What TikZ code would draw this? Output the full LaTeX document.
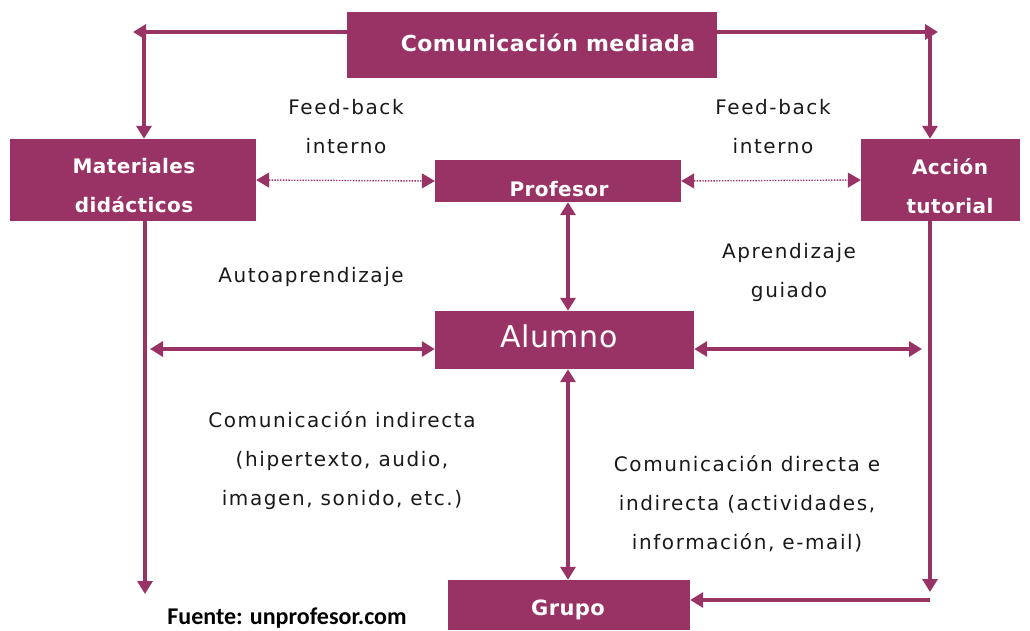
\documentclass[tikz,border=0pt]{standalone}
\usepackage{fontspec}
\setmainfont{DejaVu Sans}
\newfontfamily\lblfont[LetterSpace=8]{DejaVu Sans}
\newfontfamily\boxfont[LetterSpace=2]{DejaVu Sans}
\newfontfamily\srcfont{Carlito}
\usetikzlibrary{arrows.meta}
\definecolor{plum}{RGB}{153,51,102}
\tikzset{
  pbox/.style={fill=plum, draw=none, inner sep=0pt},
  btxt/.style={text=white, align=center, inner sep=0pt, anchor=base,
    font=\boxfont\bfseries\fontsize{20}{39}\selectfont},
  conn/.style={draw=plum, line width=3.5pt, -{Triangle[length=13pt,width=15pt]}},
  dconn/.style={draw=plum, line width=3.5pt, {Triangle[length=13pt,width=15pt]}-{Triangle[length=13pt,width=15pt]}},
  dots/.style={draw=plum, line width=1.4pt, dash pattern=on 1.4pt off 1.4pt, {Triangle[length=13pt,width=15pt]}-{Triangle[length=13pt,width=15pt]}},
  lbl/.style={text=black!90, align=center, inner sep=0pt, font=\lblfont\fontsize{20}{39}\selectfont}
}
\begin{document}
\begin{tikzpicture}[x=1pt,y=-1pt]
\useasboundingbox (0,0) rectangle (1030,630);
% boxes
\node[pbox, minimum width=370pt, minimum height=66pt] (cm) at (532,45) {};
\node[pbox, minimum width=246pt, minimum height=82pt] (mat) at (133,180) {};
\node[pbox, minimum width=246pt, minimum height=42pt] (prof) at (558,181) {};
\node[pbox, minimum width=159pt, minimum height=82pt] (acc) at (940.5,180) {};
\node[pbox, minimum width=259pt, minimum height=58pt] (alu) at (564.5,340) {};
\node[pbox, minimum width=242pt, minimum height=50pt] (gru) at (569,605) {};
% box texts
\node[btxt, font=\boxfont\bfseries\fontsize{22}{26}\selectfont] (cmt) at (548,51) {Comunicación mediada};
\node[btxt, anchor=center] (matt) at (134,186) {Materiales\\didácticos};
\node[btxt] (proft) at (559,196) {Profesor};
\node[btxt, anchor=center] (acct) at (950,186) {Acción\\tutorial};
\node[btxt, font=\boxfont\fontsize{30}{34}\selectfont] (alut) at (559,347) {Alumno};
\node[btxt, font=\boxfont\bfseries\fontsize{21}{24}\selectfont] (grut) at (568,615) {Grupo};
% coordinates
\coordinate (tlA) at (133,32);
\coordinate (tlB) at (144,32);
\coordinate (trA) at (938,32);
\coordinate (trB) at (930,32);
\coordinate (blEnd) at (145,594);
\coordinate (brEnd) at (930,592);
\coordinate (brB) at (930,600);
\coordinate (aluL) at (150,349);
\coordinate (aluR) at (922,349);
% connectors
\draw[conn] (cm.west |- tlA) -- (tlA);
\draw[conn] (tlB) -- (tlB |- mat.north);
\draw[conn] (cm.east |- trA) -- (trA);
\draw[conn] (trB) -- (trB |- acc.north);
\draw[conn] (mat.south -| blEnd) -- (blEnd);
\draw[conn] (acc.south -| brEnd) -- (brEnd);
\draw[conn] (brB) -- (gru.east |- brB);
\draw[dots] (mat.east) -- (prof.west);
\draw[dots] (prof.east) -- (acc.west);
\draw[dconn] (prof.south -| 568,0) -- (alu.north -| 568,0);
\draw[dconn] (alu.south -| 568,0) -- (gru.north -| 568,0);
\draw[dconn] (alu.west |- aluL) -- (aluL);
\draw[dconn] (alu.east |- aluR) -- (aluR);
% labels
\node[lbl] (fb1) at (346,127) {Feed-back\\interno};
\node[lbl] (fb2) at (773,127) {Feed-back\\interno};
\node[lbl] (auto) at (311,277) {Autoaprendizaje};
\node[lbl] (guia) at (789,272) {Aprendizaje\\guiado};
\node[lbl] (ci) at (342,461) {Comunicación indirecta\\(hipertexto, audio,\\imagen, sonido, etc.)};
\node[lbl] (cd) at (747,504) {Comunicación directa e\\indirecta (actividades,\\información, e-mail)};
\node[font=\srcfont\bfseries\fontsize{24}{26}\selectfont, inner sep=0pt, anchor=base] (src) at (287,624) {Fuente: unprofesor.com};
\end{tikzpicture}
\end{document}
